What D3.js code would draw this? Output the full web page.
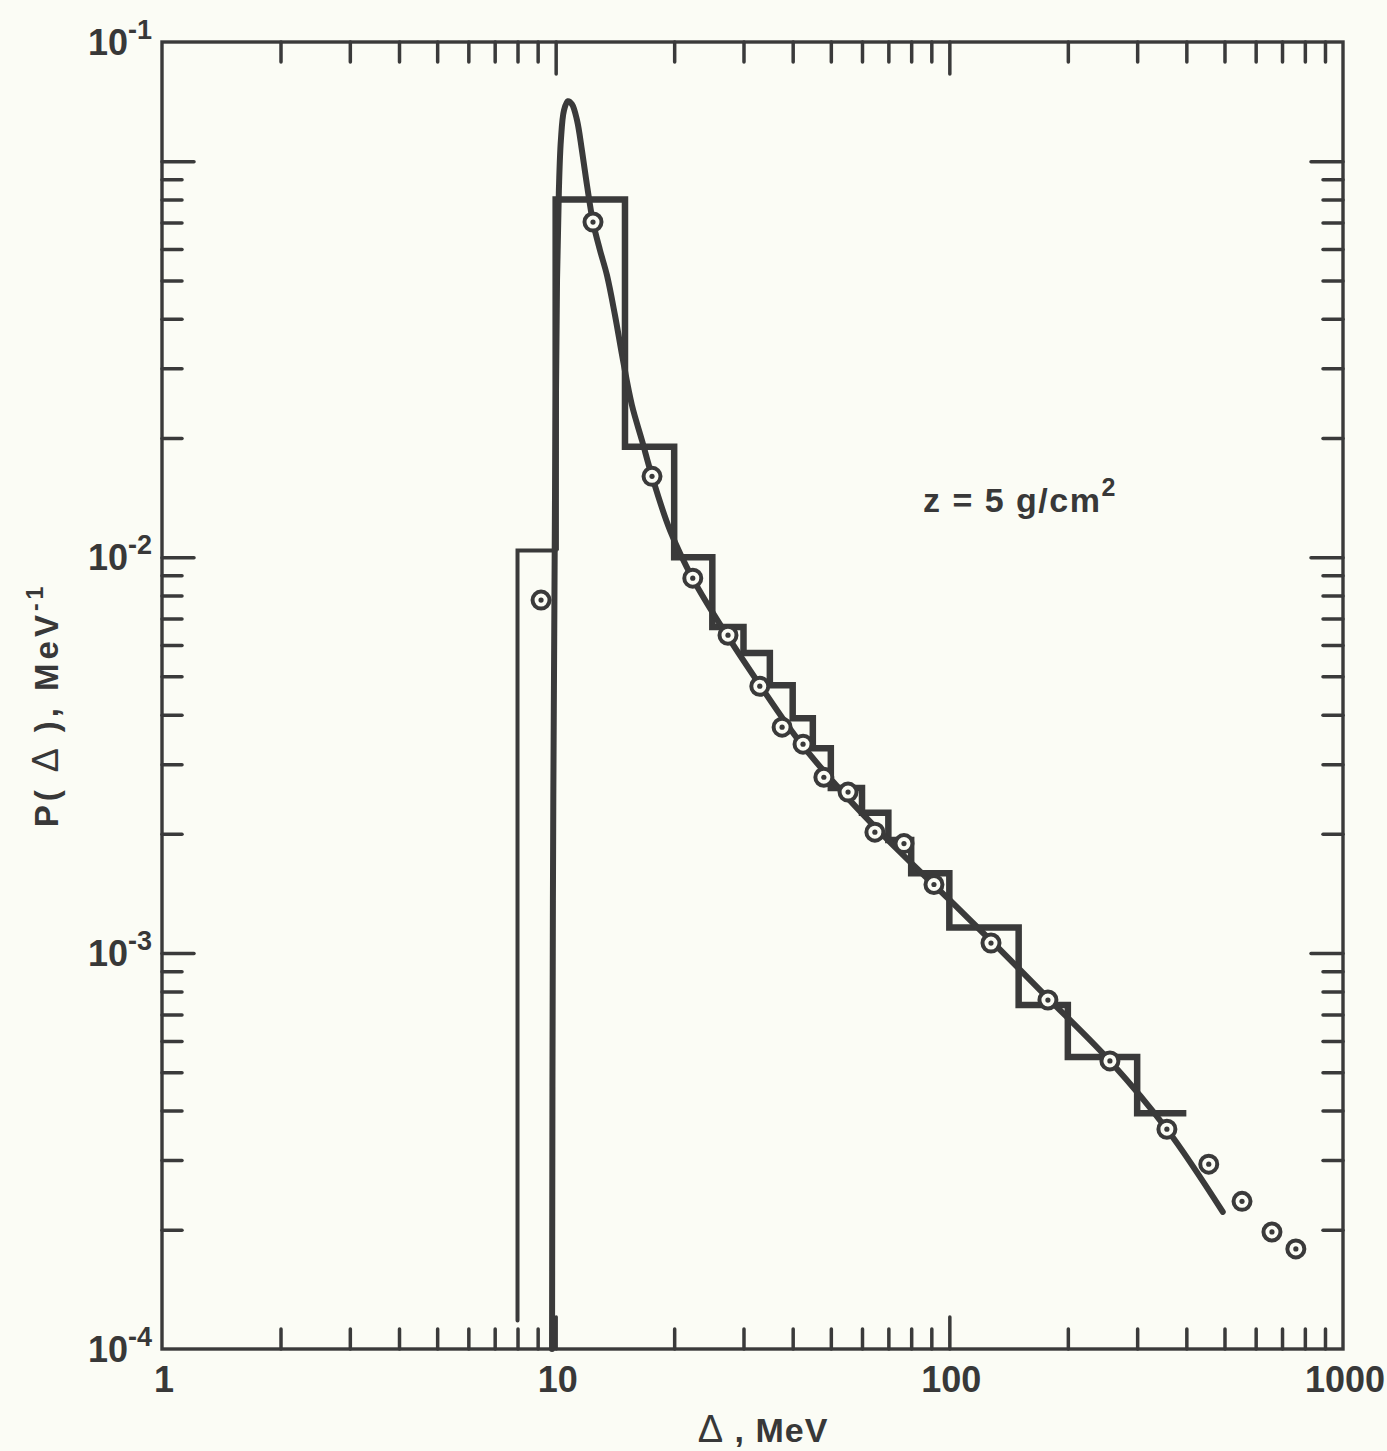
<!DOCTYPE html>
<html>
<head>
<meta charset="utf-8">
<script src="https://cdn.jsdelivr.net/npm/d3@7"></script>
<style>
body { margin: 0; background: #fbfcf5; }
svg { display: block; }
text { font-family: "Liberation Sans", Arial, sans-serif; font-weight: bold; fill: #383838; }
</style>
</head>
<body>
<svg id="chart"></svg>
<script>
// histogram: bin edges (MeV) and heights (MeV^-1)
let hist_edges = [8, 10, 15, 20, 25, 30, 35, 40, 45, 50, 60, 70, 80, 100, 150, 200, 300, 400];
let hist_values = [0.0104, 0.080, 0.0190, 0.0100, 0.00666, 0.00573, 0.00475, 0.00392, 0.00329,
    0.00261, 0.00226, 0.00193, 0.00159, 0.00116, 0.000739, 0.000546, 0.000394];
let hist_floor = 1.18e-4;

// smooth calculated distribution
let curve_x = [9.79, 9.84, 9.96, 10.08, 10.19, 10.31, 10.50, 10.74, 11.00, 11.33, 11.66, 12.01,
    12.44, 12.96, 13.50, 14.15, 14.83, 15.62, 16.57, 17.57, 19.51, 22.33, 27.23, 33.03, 41.74,
    55.9, 74.9, 100.3, 134.5, 180.1, 255.8, 357, 495];
let curve_y = [1.0e-4, 1.36e-3, 0.0139, 0.0501, 0.0845, 0.113, 0.1345, 0.1417, 0.1393, 0.1269,
    0.1066, 0.0870, 0.0702, 0.0596, 0.0515, 0.0408, 0.0314, 0.0242, 0.0197, 0.0160, 0.0117,
    0.00880, 0.00635, 0.00475, 0.00341, 0.00243, 0.00180, 0.00136, 0.00102, 0.000761,
    0.000534, 0.000359, 0.000222];

// measured points (circles)
let point_x = [9.18, 12.44, 17.57, 22.3, 27.4, 33.0, 37.6, 42.5, 48.0, 55.3, 64.7, 76.7, 91.4,
    127.6, 178, 255.8, 357, 456, 554, 660, 759];
let point_y = [0.00779, 0.0702, 0.0160, 0.00885, 0.00635, 0.00472, 0.00372, 0.00337, 0.00278,
    0.00255, 0.00202, 0.00189, 0.00149, 0.00106, 0.000761, 0.000534, 0.000359, 0.000293,
    0.000236, 0.0001975, 0.000179];

let x_tick_labels = [1, 10, 100, 1000];
let y_tick_exponents = [-4, -3, -2, -1];

let ink = "#3a3a3a";
let paper = "#fbfcf5";

let width = 1387;
let height = 1451;
let m_left = 162, m_right = 1343, m_top = 42, m_bottom = 1349;

let svg = d3.select("#chart").attr("width", width).attr("height", height);
svg.append("rect").attr("width", width).attr("height", height).attr("fill", paper);

let x = d3.scaleLog().domain([1, 1000]).range([m_left, m_right]);
let y = d3.scaleLog().domain([1e-4, 0.2]).range([m_bottom, m_top]);

function is_major(d) {
    let l = Math.log10(d);
    return Math.abs(l - Math.round(l)) < 1e-9;
}

// tick values
let x_ticks = [];
for (let dec = 1; dec < 1000; dec *= 10)
    for (let k = 2; k <= 10; k++) x_ticks.push(k * dec);
x_ticks = x_ticks.filter(d => d < 1000);

let y_ticks = [];
for (let e = -4; e < -1; e++)
    for (let k = 2; k <= 10; k++) y_ticks.push(k * Math.pow(10, e));

function style_axis(sel, sign, horizontal) {
    sel.select(".domain").remove();
    sel.selectAll(".tick line")
        .attr("stroke", ink)
        .attr("stroke-width", 3.5)
        .attr("stroke-linecap", "round");
    sel.selectAll(".tick line").each(function (d) {
        let len = is_major(d) ? 32 : 20;
        d3.select(this).attr(horizontal ? "y2" : "x2", sign * len);
    });
}

svg.append("g").attr("transform", `translate(0,${m_bottom})`)
    .call(d3.axisBottom(x).tickValues(x_ticks).tickFormat("").tickSizeOuter(0))
    .call(s => style_axis(s, -1, true));
svg.append("g").attr("transform", `translate(0,${m_top})`)
    .call(d3.axisTop(x).tickValues(x_ticks).tickFormat("").tickSizeOuter(0))
    .call(s => style_axis(s, 1, true));
svg.append("g").attr("transform", `translate(${m_left},0)`)
    .call(d3.axisLeft(y).tickValues(y_ticks).tickFormat("").tickSizeOuter(0))
    .call(s => style_axis(s, 1, false));
svg.append("g").attr("transform", `translate(${m_right},0)`)
    .call(d3.axisRight(y).tickValues(y_ticks).tickFormat("").tickSizeOuter(0))
    .call(s => style_axis(s, -1, false));

// frame
svg.append("rect")
    .attr("x", m_left).attr("y", m_top)
    .attr("width", m_right - m_left).attr("height", m_bottom - m_top)
    .attr("fill", "none").attr("stroke", ink).attr("stroke-width", 3.4);

// tick labels
svg.selectAll(".xlab").data(x_tick_labels).join("text")
    .attr("class", "xlab")
    .attr("x", d => x(d) + 2)
    .attr("y", m_bottom + 43)
    .attr("text-anchor", "middle")
    .style("font-size", "36px")
    .text(d => d);

let ylab = svg.selectAll(".ylab").data(y_tick_exponents).join("text")
    .attr("class", "ylab")
    .attr("x", 152)
    .attr("y", d => (d === -1 ? y.range()[1] : y(Math.pow(10, d))) + 13)
    .attr("text-anchor", "end")
    .style("font-size", "36px");
ylab.append("tspan").text("10");
ylab.append("tspan").attr("dy", -16).style("font-size", "27px").text(d => "-" + Math.abs(d));

// histogram, first bin drawn with a thinner pen
let thin_path = d3.path();
let thick_path = d3.path();
let last_thin = null;
hist_values.forEach(function (v, i) {
    let thin = hist_edges[i] < 10;
    let p = thin ? thin_path : thick_path;
    let prev = i === 0 ? hist_floor : hist_values[i - 1];
    if (last_thin !== thin) p.moveTo(x(hist_edges[i]), y(prev));
    p.lineTo(x(hist_edges[i]), y(v));
    p.lineTo(x(hist_edges[i + 1]), y(v));
    last_thin = thin;
});

svg.append("path").attr("d", thin_path.toString())
    .attr("fill", "none").attr("stroke", ink).attr("stroke-width", 4)
    .attr("stroke-linecap", "round");
svg.append("path").attr("d", thick_path.toString())
    .attr("fill", "none").attr("stroke", ink).attr("stroke-width", 6.5)
    .attr("stroke-linejoin", "miter");

// smooth curve
let line = d3.line()
    .x(d => x(d[0]))
    .y(d => y(d[1]))
    .curve(d3.curveCatmullRom.alpha(0.5));

svg.append("path")
    .datum(curve_x.map((d, i) => [d, curve_y[i]]))
    .attr("d", line)
    .attr("fill", "none")
    .attr("stroke", ink)
    .attr("stroke-width", 6)
    .attr("stroke-linecap", "round");

// points
let pts = svg.selectAll(".pt").data(point_x.map((d, i) => [d, point_y[i]])).join("g")
    .attr("class", "pt")
    .attr("transform", d => `translate(${x(d[0])},${y(d[1])})`);
pts.append("circle").attr("r", 8.5).attr("fill", paper).attr("stroke", ink).attr("stroke-width", 4);
pts.append("circle").attr("r", 2.6).attr("fill", ink);

// annotation
let ann = svg.append("text").attr("x", 923).attr("y", 512)
    .style("font-size", "34px").style("letter-spacing", "1.5px");
ann.append("tspan").text("z = 5 g/cm");
ann.append("tspan").attr("dy", -16).style("font-size", "25px").text("2");

// axis titles
let xt = svg.append("text")
    .attr("x", 763).attr("y", 1442)
    .attr("text-anchor", "middle")
    .style("font-size", "34px")
    .style("letter-spacing", "1px");
xt.append("tspan").style("font-weight", "normal").style("font-size", "38px").text("Δ");
xt.append("tspan").text(" , MeV");

let yt = svg.append("text")
    .attr("transform", "translate(58,705) rotate(-90)")
    .attr("text-anchor", "middle")
    .style("font-size", "33px")
    .style("letter-spacing", "4px");
yt.append("tspan").text("P(");
yt.append("tspan").style("font-weight", "normal").style("font-size", "36px").text(" Δ ");
yt.append("tspan").text("), MeV");
yt.append("tspan").attr("dy", -15).style("font-size", "23px").text("-1");
</script>
</body>
</html>
